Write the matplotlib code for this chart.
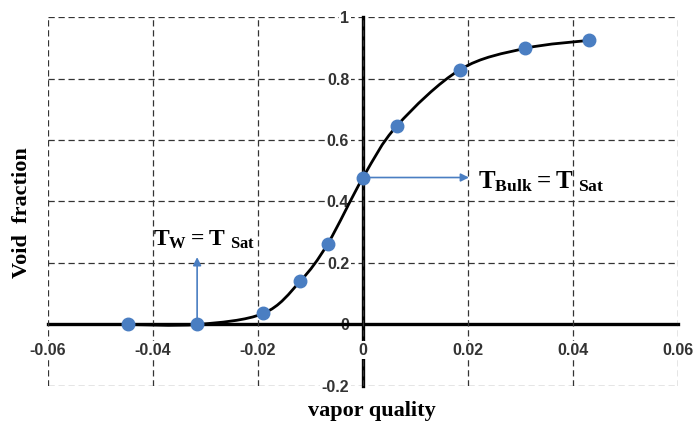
import numpy as np
import matplotlib.pyplot as plt
from matplotlib.path import Path
from matplotlib.patches import PathPatch

# measured points: vapor quality vs void fraction
quality = [-0.0448, -0.0316, -0.0190, -0.0120, -0.0067, 0.0, 0.0065, 0.0185, 0.0309, 0.0430]
void = [0.0, 0.0, 0.036, 0.140, 0.263, 0.478, 0.647, 0.829, 0.898, 0.924]

x_ticks = [-0.06, -0.04, -0.02, 0, 0.02, 0.04, 0.06]
x_labels = ["-0.06", "-0.04", "-0.02", "0", "0.02", "0.04", "0.06"]
y_ticks = [-0.2, 0, 0.2, 0.4, 0.6, 0.8, 1]
y_labels = ["-0.2", "0", "0.2", "0.4", "0.6", "0.8", "1"]

# onset of boiling and saturation points
x_wall = quality[1]
x_bulk = quality[5]
y_bulk = void[5]

plt.rcParams['mathtext.fontset'] = 'custom'
plt.rcParams['mathtext.rm'] = 'Liberation Serif'
plt.rcParams['mathtext.bf'] = 'Liberation Serif:bold'

blue = "#4A7EC2"

fig = plt.figure(figsize=(6.94, 4.23), dpi=100)
ax = fig.add_axes([0.0692, 0.0875, 0.9078, 0.8723])

ax.set_xlim(-0.06, 0.06)
ax.set_ylim(-0.2, 1)
ax.set_xticks(x_ticks)
ax.set_xticklabels(x_labels)
ax.set_yticks(y_ticks)
ax.set_yticklabels(y_labels)

ax.grid(True, linestyle=(0, (5, 3)), color="#333333", linewidth=0.9)
for s in ["top", "right"]:
    ax.spines[s].set_visible(False)
ax.spines["left"].set_position(("data", 0))
ax.spines["bottom"].set_position(("data", 0))
ax.spines["left"].set_linewidth(2.4)
ax.spines["bottom"].set_linewidth(2.4)
ax.tick_params(length=0, labelsize=11.5, labelcolor="#333333")
ax.tick_params(axis="x", pad=13)
ax.tick_params(axis="y", pad=10)
# x labels sit on white so the spine and grid break behind them
ax.xaxis.set_zorder(2.6)
for lab in ax.get_xticklabels() + ax.get_yticklabels():
    lab.set_fontfamily("Liberation Sans")
    lab.set_fontweight("bold")
    lab.set_bbox(dict(facecolor="white", edgecolor="none", pad=1))

# smoothed line through the points (Catmull-Rom as cubic Bezier)
pts = np.column_stack([quality, void])
verts = [pts[0]]
codes = [Path.MOVETO]
for i in range(len(pts) - 1):
    p0 = pts[max(i - 1, 0)]
    p1 = pts[i]
    p2 = pts[i + 1]
    p3 = pts[min(i + 2, len(pts) - 1)]
    c1 = p1 + (p2 - p0) / 6.0
    c2 = p2 - (p3 - p1) / 6.0
    verts += [c1, c2, p2]
    codes += [Path.CURVE4] * 3
ax.add_patch(PathPatch(Path(verts, codes), facecolor="none", edgecolor="black",
                       linewidth=2, zorder=3))

ax.plot(quality, void, "o", color=blue, markersize=9, zorder=4)

ax.annotate("", xy=(x_wall, 0.228), xytext=(x_wall, 0.0),
            arrowprops=dict(arrowstyle="-|>", color=blue, lw=1.2, mutation_scale=12), zorder=2)
ax.annotate("", xy=(0.0207, y_bulk), xytext=(x_bulk, y_bulk),
            arrowprops=dict(arrowstyle="-|>", color=blue, lw=1.2, mutation_scale=12), zorder=2)

ax.text(-0.0400, 0.257, r"$\mathbf{T_{W} = T_{\ Sat}}$", fontsize=17, va="baseline")
ax.text(0.0219, 0.442, r"$\mathbf{T_{Bulk} = T_{\ Sat}}$", fontsize=18, va="baseline")

fig.text(22 / 694, 1 - 213 / 423, "Void  fraction", rotation=90, ha="center", va="center",
         fontsize=16, fontweight="bold", fontfamily="Liberation Serif")
fig.text(372 / 694, 1 - 411 / 423, "vapor quality", ha="center", va="center",
         fontsize=16, fontweight="bold", fontfamily="Liberation Serif")

fig.savefig("out.png", dpi=100)
